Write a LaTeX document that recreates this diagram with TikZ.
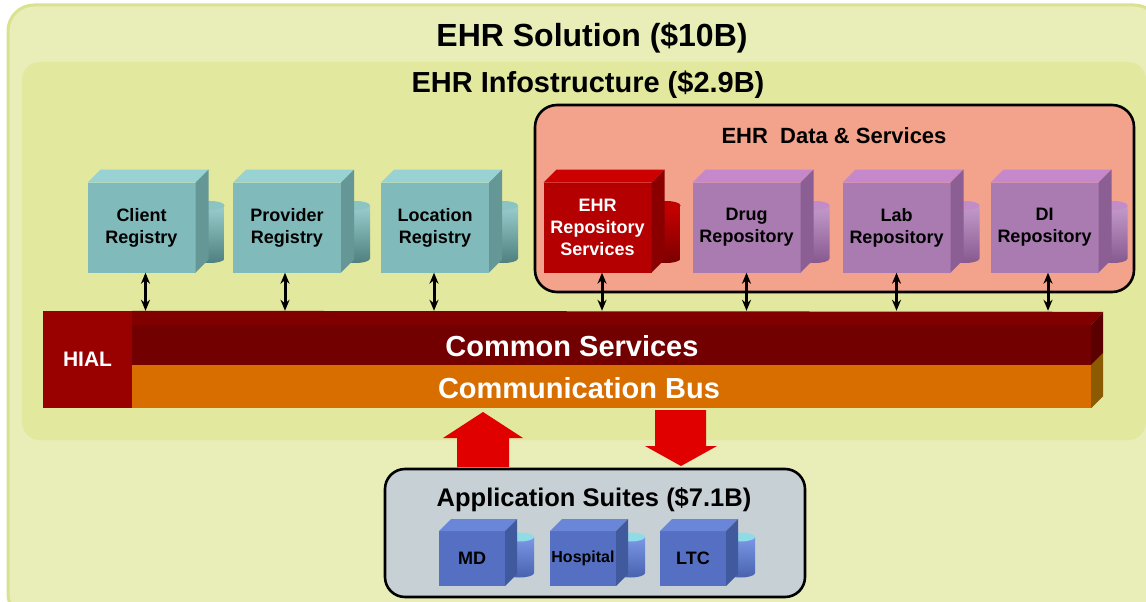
\documentclass[tikz,border=0pt]{standalone}
\usepackage{fontspec}
\setmainfont{Liberation Sans}
\usetikzlibrary{arrows.meta,calc}

% --- palette ---------------------------------------------------------------
\definecolor{solfill}{HTML}{E9EDB8}
\definecolor{solrim}{HTML}{DAE290}
\definecolor{infofill}{HTML}{E2E89E}
\definecolor{datafill}{HTML}{F3A28C}
\definecolor{appfill}{HTML}{C7D0D4}
\definecolor{hialred}{HTML}{990000}
\definecolor{cstop}{HTML}{800000}
\definecolor{csfront}{HTML}{730000}
\definecolor{csside}{HTML}{5A0000}
\definecolor{busfront}{HTML}{D86E00}
\definecolor{busside}{HTML}{8C5A00}
\definecolor{bigarrow}{HTML}{E00000}
% cube families: front / top / side / drum highlight / drum shadow / drum lid
\definecolor{tealfront}{HTML}{80BABA}
\definecolor{tealtop}{HTML}{98D2D2}
\definecolor{tealside}{HTML}{659797}
\definecolor{tealdrumhi}{HTML}{9ACECE}
\definecolor{tealdrumlo}{HTML}{4F7F7F}
\definecolor{tealdrumtop}{HTML}{8CC4C4}
\definecolor{plumfront}{HTML}{A97BB1}
\definecolor{plumtop}{HTML}{C589CB}
\definecolor{plumside}{HTML}{8B5E94}
\definecolor{plumdrumhi}{HTML}{C49ACB}
\definecolor{plumdrumlo}{HTML}{87598F}
\definecolor{plumdrumtop}{HTML}{C28CC8}
\definecolor{rubyfront}{HTML}{B40000}
\definecolor{rubytop}{HTML}{CC0000}
\definecolor{rubyside}{HTML}{8A0000}
\definecolor{rubydrumhi}{HTML}{C80000}
\definecolor{rubydrumlo}{HTML}{7A0000}
\definecolor{rubydrumtop}{HTML}{C00000}
\definecolor{cobaltfront}{HTML}{5570C2}
\definecolor{cobalttop}{HTML}{6A86D8}
\definecolor{cobaltside}{HTML}{415A9E}
\definecolor{cobaltdrumhi}{HTML}{7C98E6}
\definecolor{cobaltdrumlo}{HTML}{4862AE}
\definecolor{cobaltdrumtop}{HTML}{90DCE6}

\tikzset{
  x=1pt, y=-1pt,
  cubeface/.style={rectangle, inner sep=0pt, align=center},
  darklbl/.style={text=black, font=\bfseries\fontsize{18}{22}\selectfont},
  lightlbl/.style={text=white, font=\bfseries\fontsize{18}{22}\selectfont},
  smalllbl/.style={text=black, font=\bfseries\fontsize{16}{20}\selectfont},
  headline/.style={text=black, font=\bfseries\fontsize{#1}{#1}\selectfont},
  barlbl/.style={text=white, font=\bfseries\fontsize{29}{32}\selectfont},
  panel/.style={draw=black, line width=2.6pt, rounded corners=22pt},
  linkarrow/.style={line width=3pt,
    {Stealth[length=11pt,width=9pt]}-{Stealth[length=11pt,width=9pt]}},
}

% size of the next cubes: width, height, depth, drum top, drum bottom
\newcommand{\cubedims}[5]{\def\cw{#1}\def\ch{#2}\def\cd{#3}\def\ctop{#4}\def\cbot{#5}}
% a repository cube with its storage drum: name, centre, family, label style, label
\newcommand{\repo}[5]{%
  \begin{scope}[shift={(#2)}]
    \shade[top color=#3drumhi, bottom color=#3drumlo]
      ({\cw/2},\ctop) -- ({\cw/2},\cbot)
      arc[start angle=180, end angle=360, x radius=14.5pt, y radius=4.5pt]
      -- ({\cw/2+29},\ctop) -- cycle;
    \fill[#3drumtop] ({\cw/2+14.5},\ctop) ellipse (14.5pt and 4.5pt);
    \node[cubeface, fill=#3front, minimum width=\cw*1pt, minimum height=\ch*1pt, #4]
      (#1) at (0,0) {#5};
    \fill[#3top] ({-\cw/2},{-\ch/2}) -- ++(\cd,-\cd) -- ({\cw/2+\cd},{-\ch/2-\cd})
      -- ({\cw/2},{-\ch/2}) -- cycle;
    \fill[#3side] ({\cw/2},{-\ch/2}) -- ++(\cd,-\cd) -- ({\cw/2+\cd},{\ch/2-\cd})
      -- ({\cw/2},{\ch/2}) -- cycle;
  \end{scope}}

\begin{document}
\begin{tikzpicture}
  \useasboundingbox (0,0) rectangle (1146,602);
  \fill[white] (0,0) rectangle (1146,602);
  \clip (0,0) rectangle (1146,602);

  % whole solution and the infostructure panel
  \draw[fill=solfill, draw=solrim, line width=3pt, rounded corners=26pt]
    (8,5) rectangle (1160,620);
  \fill[infofill, rounded corners=18pt] (22,62) rectangle (1146,440);
  \node[headline=32] (solution) at (592,38) {EHR Solution (\$10B)};
  \node[headline=29] (infra) at (588,85) {EHR Infostructure (\$2.9B)};

  % data & services panel
  \draw[panel, fill=datafill] (535,105) rectangle (1134,292);
  \node[headline=22] (dstitle) at (834,136) {EHR\ \ Data \& Services};

  % registries and repositories
  \cubedims{108}{90}{13}{-22}{31}
  \repo{client}{141.5,227.5}{teal}{darklbl}{Client\\Registry}
  \repo{provider}{287,227.5}{teal}{darklbl}{Provider\\Registry}
  \repo{location}{435,227.5}{teal}{darklbl}{Location\\Registry}
  \repo{ehrrepo}{597.5,227.5}{ruby}{lightlbl}{EHR\\Repository\\Services}
  \repo{drug}{746.5,227.5}{plum}{darklbl}{Drug\\Repository}
  \repo{lab}{896.5,227.5}{plum}{darklbl}{Lab\\Repository}
  \repo{di}{1044.5,227.5}{plum}{darklbl}{DI\\Repository}

  % HIAL block: common services over the communication bus
  \node[cubeface, fill=hialred, minimum width=89pt, minimum height=97pt,
        text=white, font=\bfseries\fontsize{21}{24}\selectfont] (hial) at (87.5,359.5) {HIAL};
  \node[cubeface, fill=csfront, minimum width=959pt, minimum height=40pt] (cs) at (611.5,345) {};
  \node[cubeface, fill=busfront, minimum width=959pt, minimum height=43pt] (bus) at (611.5,386.5) {};
  \fill[cstop] (cs.north west) -- (cs.north east) -- ++(12,-13) -- (hial.north east) -- cycle;
  \fill[csside] (cs.north east) -- ++(12,-13) -- ($(cs.south east)+(12,-12)$) -- (cs.south east) -- cycle;
  \fill[busside] (bus.north east) -- ++(12,-12) -- ($(bus.south east)+(12,-12)$) -- (bus.south east) -- cycle;
  \coordinate (bustop) at (hial.north east);
  \node[barlbl] (cslbl) at (572,346) {Common Services};
  \node[barlbl] (buslbl) at (579,388) {Communication Bus};

  % links from every registry / repository down to the HIAL
  \foreach \c/\dx in {client/4, provider/-2, location/-1, ehrrepo/4.5, drug/0, lab/0, di/3.5}
    \draw[linkarrow] ([xshift=\dx pt]\c.south) -- ([xshift=\dx pt]\c.south |- bustop);

  % application suites panel
  \draw[panel, fill=appfill, rounded corners=20pt] (385,469) rectangle (805,597);
  \node[headline=25.5] (apptitle) at (594,500) {Application Suites (\$7.1B)};
  \cubedims{66}{55}{12}{-21.5}{14.5}
  \repo{md}{472,558.5}{cobalt}{darklbl}{MD}
  \repo{hospital}{583,558.5}{cobalt}{smalllbl}{Hospital}
  \repo{ltc}{693,558.5}{cobalt}{darklbl}{LTC}

  % traffic between the suites and the bus
  \fill[bigarrow] (457,467) -- (457,438) -- (443,438) -- (483,412) -- (523,438)
    -- (509,438) -- (509,467) -- cycle;
  \fill[bigarrow] (655,410) -- (655,446) -- (645,446) -- (681,466) -- (717,446)
    -- (706,446) -- (706,410) -- cycle;
\end{tikzpicture}
\end{document}
